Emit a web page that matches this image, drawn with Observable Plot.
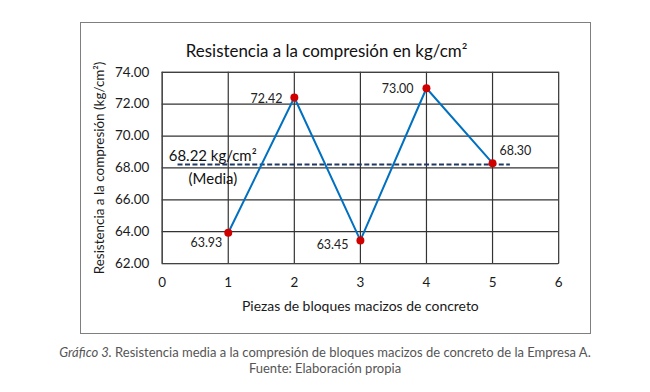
<!DOCTYPE html>
<html><head><meta charset="utf-8">
<script src="https://cdn.jsdelivr.net/npm/d3@7"></script>
<script src="https://cdn.jsdelivr.net/npm/@observablehq/plot@0.6"></script>
<style>
body{margin:0;background:#fff;font-family:Lato,"Open Sans",sans-serif;}
#wrap{position:relative;width:650px;height:392px;background:#fff;}
#box{position:absolute;left:80px;top:22px;width:509px;height:310px;border:1px solid #7f7f7f;overflow:hidden;}
#box svg{position:absolute;left:-1px;top:-1px;}
#cap{position:absolute;left:0;top:344px;width:650px;text-align:center;font-size:13px;line-height:16px;color:#555;font-family:Lato,sans-serif;}
</style></head><body>
<div id="wrap"><div id="box"></div>
<div id="cap"><i>Gráfico 3.</i> Resistencia media a la compresión de bloques macizos de concreto de la Empresa A.<br>Fuente: Elaboración propia</div>
</div>
<script>
const pieces = [1, 2, 3, 4, 5];
const resistance = [63.93, 72.42, 63.45, 73.00, 68.30];
const labels = ["63.93", "72.42", "63.45", "73.00", "68.30"];
const meanValue = 68.22;
const meanLabel = ["68.22 kg/cm²", "(Media)"];
const xTicks = [0, 1, 2, 3, 4, 5, 6];
const yTicks = [62, 64, 66, 68, 70, 72, 74];
const title = "Resistencia a la compresión en kg/cm²";
const xTitle = "Piezas de bloques macizos de concreto";
const yTitle = "Resistencia a la compresión (kg/cm²)";

const data = pieces.map((p, i) => ({x: p, y: resistance[i], label: labels[i], i}));
const font = "Lato, sans-serif";
const lab = (idx, opts) => Plot.text(data.filter(d => idx.includes(d.i)), {x: "x", y: "y", text: "label", fontSize: 12.5, fill: "#222", ...opts});

const chart = Plot.plot({
  width: 511, height: 312,
  marginLeft: 82, marginRight: 31, marginTop: 50, marginBottom: 70,
  style: {fontFamily: font, fontSize: "13.5px", color: "#1a1a1a", background: "transparent"},
  x: {domain: [0, 6], ticks: xTicks, tickFormat: d => d, tickSize: 0, tickPadding: 14, label: null},
  y: {domain: [62, 74], ticks: yTicks, tickFormat: d => d.toFixed(2), tickSize: 0, tickPadding: 13, label: null},
  marks: [
    Plot.gridX(xTicks, {stroke: "#333", strokeOpacity: 1, strokeWidth: 1.2}),
    Plot.gridY(yTicks, {stroke: "#333", strokeOpacity: 1, strokeWidth: 1.2}),
    Plot.frame({stroke: "#444"}),
    Plot.ruleY([meanValue], {x1: 0.24, x2: 5.27, stroke: "#1f3864", strokeWidth: 2, strokeDasharray: "5,2.5"}),
    Plot.line(data, {x: "x", y: "y", stroke: "#0070c0", strokeWidth: 2}),
    Plot.dot(data, {x: "x", y: "y", r: 4, fill: "#d00000", stroke: "none"}),
    lab([0], {textAnchor: "end", dx: -6, dy: 10}),
    lab([1], {textAnchor: "end", dx: -12, dy: 2}),
    lab([2], {textAnchor: "end", dx: -12, dy: 5}),
    lab([3], {textAnchor: "end", dx: -13, dy: 1}),
    lab([4], {textAnchor: "start", dx: 7, dy: -12}),
    Plot.text([meanLabel[0]], {x: 0.1, y: meanValue, text: d => d, textAnchor: "start", dy: -8, fontSize: 15, fill: "#111"}),
    Plot.text([meanLabel[1]], {x: 0.4, y: meanValue, text: d => d, textAnchor: "start", dy: 15, fontSize: 15, fill: "#111"}),
    Plot.text([title], {frameAnchor: "top", dx: -34, dy: -27, fontSize: 17, fill: "#111"}),
    Plot.text([yTitle], {frameAnchor: "left", textAnchor: "middle", dx: -63, rotate: -90, fontSize: 13.5, fill: "#1a1a1a"}),
    Plot.text([xTitle], {frameAnchor: "bottom", dy: 48, fontSize: 14, fill: "#1a1a1a"})
  ]
});
document.getElementById("box").appendChild(chart);
</script>
</body></html>
